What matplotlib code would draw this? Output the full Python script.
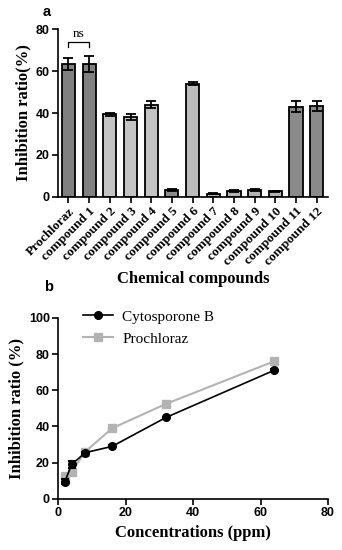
import numpy as np
import matplotlib
matplotlib.use("Agg")
from matplotlib import pyplot as plt

# panel a data
compounds = ['Prochloraz', 'compound 1', 'compound 2', 'compound 3', 'compound 4',
             'compound 5', 'compound 6', 'compound 7', 'compound 8', 'compound 9',
             'compound 10', 'compound 11', 'compound 12']
inhibition = [63.5, 63.5, 39.3, 38.3, 44.0, 3.5, 54.0, 1.6, 2.8, 3.3, 2.7, 43.0, 43.3]
inhibition_err = [2.8, 3.8, 0.6, 1.4, 1.8, 0.5, 0.8, 0.3, 0.3, 0.4, 0.3, 2.5, 2.2]
bar_colors = ['#808080', '#808080', '#c4c4c4', '#c4c4c4', '#c4c4c4', '#8c8c8c', '#bcbcbc',
              '#b4b4b4', '#b4b4b4', '#b4b4b4', '#b4b4b4', '#8a8a8a', '#8a8a8a']

# panel b data
conc = [2, 4, 8, 16, 32, 64]
cyto = [9.5, 19.0, 25.5, 29.0, 45.0, 71.0]
cyto_err = [1.5, 1.8, 0.5, 0.5, 0.5, 0.5]
prochloraz = [12.5, 15.0, 26.0, 39.0, 52.5, 76.0]
prochloraz_err = [1.5, 1.5, 0.5, 0.5, 0.5, 0.5]

serif = 'Liberation Serif'
sans = 'Liberation Sans'

fig = plt.figure(figsize=(3.42, 5.5), dpi=100)

def style_axes(ax):
    for s in ['top', 'right']:
        ax.spines[s].set_visible(False)
    for s in ['left', 'bottom']:
        ax.spines[s].set_linewidth(1.2)
    ax.tick_params(direction='out', width=1.2, length=4, labelsize=9, pad=2)
    for lab in ax.get_yticklabels():
        lab.set_fontfamily(sans)
        lab.set_fontweight('bold')

# ---- a ----
ax1 = fig.add_axes([0.170, 0.642, 0.789, 0.305])
x = np.arange(len(compounds))
ax1.bar(x, inhibition, width=0.64, color=bar_colors, edgecolor='black', linewidth=1.3,
        yerr=inhibition_err, error_kw=dict(ecolor='black', elinewidth=1.3, capsize=3.5, capthick=1.3),
        zorder=2)
ax1.set_xlim(-0.5, 12.55)
ax1.set_ylim(0, 80)
ax1.set_yticks([0, 20, 40, 60, 80])
ax1.set_xticks(x)
ax1.set_xticklabels(compounds, rotation=45, ha='right', rotation_mode='anchor',
                    fontfamily=serif, fontweight='bold', fontsize=9.5)
style_axes(ax1)
ax1.tick_params(axis='x', labelsize=9.5)
ax1.set_ylabel('Inhibition ratio(%)', fontfamily=serif, fontweight='bold', fontsize=12, labelpad=3)
ax1.set_xlabel('Chemical compounds', fontfamily=serif, fontweight='bold', fontsize=12, labelpad=2)

# ns bracket
ax1.plot([0, 0, 1, 1], [71.5, 74, 74, 71.5], color='black', lw=0.9, clip_on=False)
ax1.text(0.5, 75, 'ns', ha='center', va='bottom', fontfamily=serif, fontsize=9.5)

fig.text(0.125, 0.978, 'a', fontfamily=sans, fontweight='bold', fontsize=10.5, ha='left', va='center')

# ---- b ----
ax2 = fig.add_axes([0.170, 0.093, 0.789, 0.329])
ax2.errorbar(conc, cyto, yerr=cyto_err, color='black', marker='o', markersize=5.5, lw=1.2,
             capsize=3, capthick=1.5, elinewidth=1.5, label='Cytosporone B', zorder=3)
ax2.errorbar(conc, prochloraz, yerr=prochloraz_err, color='#b3b3b3', marker='s', markersize=6,
             lw=1.5, capsize=3, capthick=1.5, elinewidth=1.5, label='Prochloraz', zorder=2)
ax2.set_xlim(0, 80)
ax2.set_ylim(0, 100)
ax2.set_xticks([0, 20, 40, 60, 80])
ax2.set_yticks([0, 20, 40, 60, 80, 100])
style_axes(ax2)
for lab in ax2.get_xticklabels():
    lab.set_fontfamily(sans)
    lab.set_fontweight('bold')
ax2.set_ylabel('Inhibition ratio (%)', fontfamily=serif, fontweight='bold', fontsize=12, labelpad=3)
ax2.set_xlabel('Concentrations (ppm)', fontfamily=serif, fontweight='bold', fontsize=12, labelpad=4)
handles, labels = ax2.get_legend_handles_labels()
handles = [h[0] for h in handles]
ax2.legend(handles, labels, loc='upper left', bbox_to_anchor=(0.04, 1.12), frameon=False,
           prop=dict(family=serif, size=11), handlelength=2.0, handletextpad=0.6, labelspacing=0.55)

fig.text(0.13, 0.478, 'b', fontfamily=sans, fontweight='bold', fontsize=10.5, ha='left', va='center')

fig.savefig('out.png', dpi=100)
